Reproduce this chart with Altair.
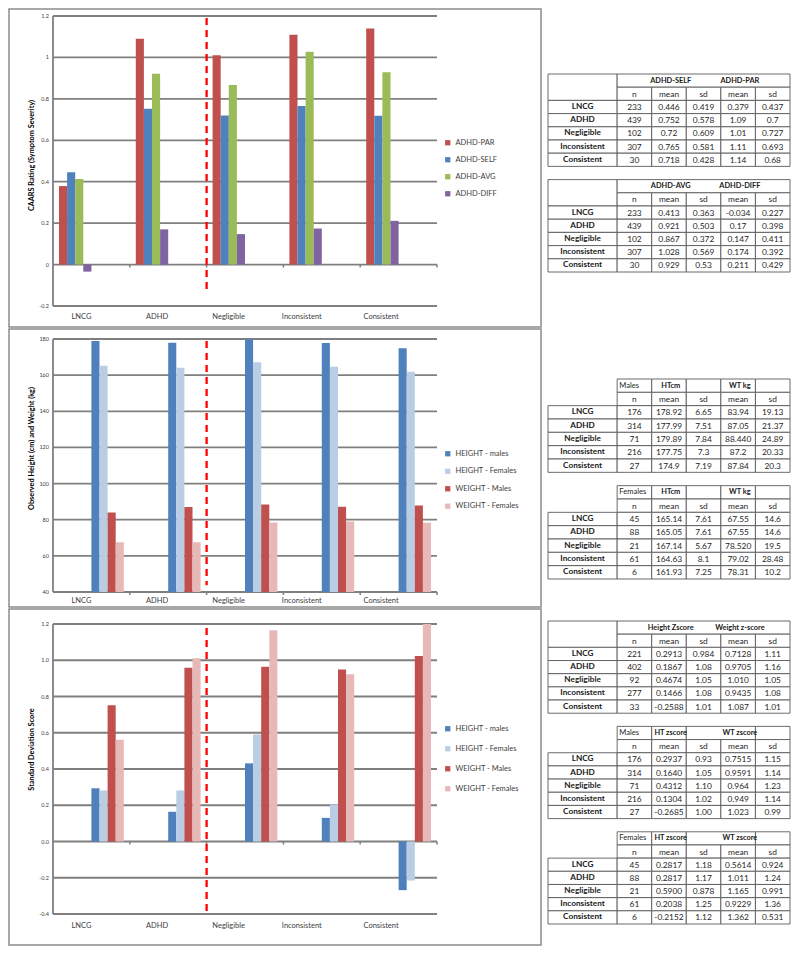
import altair as alt
import pandas as pd

# ---------------- data ----------------
categories = ["LNCG", "ADHD", "Negligible", "Inconsistent", "Consistent"]

# chart 1 : CAARS ratings
caars_series = ["ADHD-PAR", "ADHD-SELF", "ADHD-AVG", "ADHD-DIFF"]
adhd_par = [0.379, 1.09, 1.01, 1.11, 1.14]
adhd_self = [0.446, 0.752, 0.72, 0.765, 0.718]
adhd_avg = [0.413, 0.921, 0.867, 1.028, 0.929]
adhd_diff = [-0.034, 0.17, 0.147, 0.174, 0.211]
caars_ticks = [-0.2, 0, 0.2, 0.4, 0.6, 0.8, 1, 1.2]
caars_tick_labels = ["-0.2", "0", "0.2", "0.4", "0.6", "0.8", "1", "1.2"]

# chart 2 : observed height / weight
hw_series = ["HEIGHT - males", "HEIGHT - Females", "WEIGHT - Males", "WEIGHT - Females"]
ht_males = [178.92, 177.99, 179.89, 177.75, 174.9]
ht_females = [165.14, 164.05, 167.14, 164.63, 161.93]
wt_males = [83.94, 87.05, 88.44, 87.2, 87.84]
wt_females = [67.55, 67.55, 78.52, 79.02, 78.31]
hw_ticks = [40, 60, 80, 100, 120, 140, 160, 180]
hw_tick_labels = ["40", "60", "80", "100", "120", "140", "160", "180"]

# chart 3 : z-scores
z_ht_males = [0.2937, 0.1640, 0.4312, 0.1304, -0.2685]
z_ht_females = [0.2817, 0.2817, 0.5900, 0.2038, -0.2152]
z_wt_males = [0.7515, 0.9591, 0.964, 0.949, 1.023]
z_wt_females = [0.5614, 1.011, 1.165, 0.9229, 1.362]
z_ticks = [-0.4, -0.2, 0.0, 0.2, 0.4, 0.6, 0.8, 1.0, 1.2]
z_tick_labels = ["-0.4", "-0.2", "0.0", "0.2", "0.4", "0.6", "0.8", "1.0", "1.2"]

# tables
sub_header = ["n", "mean", "sd", "mean", "sd"]
self_par_table = [
    ["233", "0.446", "0.419", "0.379", "0.437"],
    ["439", "0.752", "0.578", "1.09", "0.7"],
    ["102", "0.72", "0.609", "1.01", "0.727"],
    ["307", "0.765", "0.581", "1.11", "0.693"],
    ["30", "0.718", "0.428", "1.14", "0.68"],
]
avg_diff_table = [
    ["233", "0.413", "0.363", "-0.034", "0.227"],
    ["439", "0.921", "0.503", "0.17", "0.398"],
    ["102", "0.867", "0.372", "0.147", "0.411"],
    ["307", "1.028", "0.569", "0.174", "0.392"],
    ["30", "0.929", "0.53", "0.211", "0.429"],
]
males_table = [
    ["176", "178.92", "6.65", "83.94", "19.13"],
    ["314", "177.99", "7.51", "87.05", "21.37"],
    ["71", "179.89", "7.84", "88.440", "24.89"],
    ["216", "177.75", "7.3", "87.2", "20.33"],
    ["27", "174.9", "7.19", "87.84", "20.3"],
]
females_table = [
    ["45", "165.14", "7.61", "67.55", "14.6"],
    ["88", "165.05", "7.61", "67.55", "14.6"],
    ["21", "167.14", "5.67", "78.520", "19.5"],
    ["61", "164.63", "8.1", "79.02", "28.48"],
    ["6", "161.93", "7.25", "78.31", "10.2"],
]
z_all_table = [
    ["221", "0.2913", "0.984", "0.7128", "1.11"],
    ["402", "0.1867", "1.08", "0.9705", "1.16"],
    ["92", "0.4674", "1.05", "1.010", "1.05"],
    ["277", "0.1466", "1.08", "0.9435", "1.08"],
    ["33", "-0.2588", "1.01", "1.087", "1.01"],
]
z_males_table = [
    ["176", "0.2937", "0.93", "0.7515", "1.15"],
    ["314", "0.1640", "1.05", "0.9591", "1.14"],
    ["71", "0.4312", "1.10", "0.964", "1.23"],
    ["216", "0.1304", "1.02", "0.949", "1.14"],
    ["27", "-0.2685", "1.00", "1.023", "0.99"],
]
z_females_table = [
    ["45", "0.2817", "1.18", "0.5614", "0.924"],
    ["88", "0.2817", "1.17", "1.011", "1.24"],
    ["21", "0.5900", "0.878", "1.165", "0.991"],
    ["61", "0.2038", "1.25", "0.9229", "1.36"],
    ["6", "-0.2152", "1.12", "1.362", "0.531"],
]

GRID = "#7f7f7f"
FONT = "Lato"


def panel(names, values, colors, y_domain, y_ticks, y_labels, y_title, title_y,
          legend_y, legend_pad, height, frame_top, frame_bottom,
          dash_top, dash_bottom, base_val, tick_len, label_pad):
    recs = []
    for name, vals in zip(names, values):
        for c, v in zip(categories, vals):
            recs.append({"cat": c, "series": name, "value": v})
    df = pd.DataFrame(recs)
    tick_df = pd.DataFrame({"v": y_ticks, "lab": y_labels})

    frame = alt.Chart(pd.DataFrame({"k": [0]})).mark_rect(
        fillOpacity=0, stroke="#8c8c8c", strokeWidth=1.5
    ).encode(
        x=alt.value(-44), x2=alt.value(488),
        y=alt.value(-frame_top), y2=alt.value(height + frame_bottom),
    )

    grid = alt.Chart(tick_df).mark_rule(color=GRID, strokeWidth=1.8).encode(
        y=alt.Y("v:Q"))

    ylabels = alt.Chart(tick_df).mark_text(
        align="right", baseline="middle", fontSize=5.5, color="#404040", font=FONT
    ).encode(x=alt.value(-4), y=alt.Y("v:Q"), text="lab:N")

    left_axis = alt.Chart(pd.DataFrame({"cat": [categories[0]]})).mark_rule(
        color=GRID, strokeWidth=1.8
    ).encode(
        x=alt.X("cat:N", bandPosition=0),
        y=alt.datum(y_domain[0]), y2=alt.datum(y_domain[1]),
    )

    bars = alt.Chart(df).mark_bar(clip=True).encode(
        x=alt.X("cat:N", sort=categories,
                scale=alt.Scale(domain=categories, paddingInner=0, paddingOuter=0),
                axis=alt.Axis(title=None, labelAngle=0, ticks=False, domain=False,
                              grid=False, labelPadding=label_pad, labelFontSize=7.5,
                              labelColor="#404040", labelFont=FONT)),
        xOffset=alt.XOffset("series:N",
                            scale=alt.Scale(domain=names, paddingInner=0, paddingOuter=0.74)),
        y=alt.Y("value:Q",
                scale=alt.Scale(domain=y_domain, nice=False, zero=False),
                axis=alt.Axis(title=y_title, labels=False, grid=False, domain=False,
                              ticks=False,
                              titleFont=FONT, titleFontSize=7.3, titleFontWeight="bold",
                              titleColor="#000000", titleAngle=270, titleAlign="center",
                              titleBaseline="middle", titleX=-22, titleY=title_y)),
        color=alt.Color("series:N",
                        scale=alt.Scale(domain=names, range=colors),
                        legend=alt.Legend(title=None, orient="none", legendX=391,
                                          legendY=legend_y, direction="vertical",
                                          symbolType="square", symbolSize=28,
                                          symbolStrokeWidth=0, labelFontSize=7.5,
                                          labelColor="#404040", labelFont=FONT,
                                          rowPadding=legend_pad, padding=0,
                                          labelOffset=4)),
    )

    ticks = alt.Chart(pd.DataFrame({"cat": categories})).mark_rule(
        color=GRID, strokeWidth=1.5
    ).encode(
        x=alt.X("cat:N", bandPosition=1),
        y=alt.datum(base_val), y2=alt.datum(base_val - tick_len),
    )

    dash = alt.Chart(pd.DataFrame({"cat": ["Negligible"]})).mark_rule(
        color="#ff0000", strokeWidth=2.3, strokeDash=[7, 5]
    ).encode(
        x=alt.X("cat:N", bandPosition=0),
        y=alt.datum(dash_top), y2=alt.datum(dash_bottom),
    )

    return alt.layer(frame, grid, left_axis, bars, ticks, dash, ylabels).properties(
        width=384, height=height)


def table_chart(specs, n_rows, rng, height):
    rects, bold_t, head_t, norm_t, left_t = [], [], [], [], []
    for spec in specs:
        r0 = spec["start"]
        kind = spec["kind"]
        # header row 0
        if kind == "A":
            rects.append({"x0": 0, "x1": 2, "y0": r0, "y1": r0 + 2})
            rects.append({"x0": 2, "x1": 7, "y0": r0, "y1": r0 + 1})
        elif kind == "B":
            for c in range(2, 7):
                rects.append({"x0": c, "x1": c + 1, "y0": r0, "y1": r0 + 1})
        else:
            for a, b in [(2, 3), (3, 4), (4, 6), (6, 7)]:
                rects.append({"x0": a, "x1": b, "y0": r0, "y1": r0 + 1})
        if spec.get("group"):
            left_t.append({"x": 2.06, "y": r0 + 0.5, "t": spec["group"]})
        for text, c in spec["head"]:
            head_t.append({"x": c + 0.55, "y": r0 + 0.5, "t": text})
        # header row 1
        for i, h in enumerate(sub_header):
            c = 2 + i
            rects.append({"x0": c, "x1": c + 1, "y0": r0 + 1, "y1": r0 + 2})
            norm_t.append({"x": c + 0.5, "y": r0 + 1.5, "t": h})
        # data rows
        for j, (lab, row) in enumerate(zip(categories, spec["rows"])):
            rr = r0 + 2 + j
            rects.append({"x0": 0, "x1": 2, "y0": rr, "y1": rr + 1})
            bold_t.append({"x": 1.0, "y": rr + 0.5, "t": lab})
            for i, v in enumerate(row):
                c = 2 + i
                rects.append({"x0": c, "x1": c + 1, "y0": rr, "y1": rr + 1})
                norm_t.append({"x": c + 0.5, "y": rr + 0.5, "t": v})

    xs = alt.Scale(domain=[0, 7], nice=False, zero=False)
    ys = alt.Scale(domain=[0, n_rows], range=rng, nice=False, zero=False)

    def txt(data, **kw):
        return alt.Chart(pd.DataFrame(data)).mark_text(
            baseline="middle", font=FONT, **kw
        ).encode(x=alt.X("x:Q", scale=xs, axis=None),
                 y=alt.Y("y:Q", scale=ys, axis=None), text="t:N")

    layers = [
        alt.Chart(pd.DataFrame(rects)).mark_rect(
            fill="white", stroke="#5a5a5a", strokeWidth=0.9
        ).encode(
            x=alt.X("x0:Q", scale=xs, axis=None), x2="x1:Q",
            y=alt.Y("y0:Q", scale=ys, axis=None), y2="y1:Q",
        ),
        txt(bold_t, fontSize=8.2, fontWeight="bold", align="center", color="#1a1a1a"),
        txt(head_t, fontSize=7.4, fontWeight="bold", align="center", color="#1a1a1a"),
        txt(norm_t, fontSize=8.4, align="center", color="#262626"),
    ]
    if left_t:
        layers.append(txt(left_t, fontSize=7.6, align="left", color="#262626"))
    return alt.layer(*layers).properties(width=242, height=height)


p1 = panel(caars_series, [adhd_par, adhd_self, adhd_avg, adhd_diff],
           ["#C0504D", "#4F81BD", "#9BBB59", "#8064A2"],
           [-0.2, 1.2], caars_ticks, caars_tick_labels,
           "CAARS Rating (Symptom Severity)", 139, 123, 8, 290, 7, 21,
           1.19, -0.138, 0, 0.0145, 10)
p2 = panel(hw_series, [ht_males, ht_females, wt_males, wt_females],
           ["#4F81BD", "#B9CDE5", "#C0504D", "#E6B9B8"],
           [40, 180], hw_ticks, hw_tick_labels,
           "Observed Height (cm) and Weight (kg)", 109, 111, 8.5, 253, 10, 15,
           178.9, 43.8, 40, 1.66, 8)
p3 = panel(hw_series, [z_ht_males, z_ht_females, z_wt_males, z_wt_females],
           ["#4F81BD", "#B9CDE5", "#C0504D", "#E6B9B8"],
           [-0.4, 1.2], z_ticks, z_tick_labels,
           "Standard Deviation Score", 125, 101, 11, 290, 15, 31,
           1.178, -0.4, 0, 0.0166, 11)

t1 = table_chart([
    {"start": 0, "kind": "A", "head": [("ADHD-SELF", 3), ("ADHD-PAR", 5)], "rows": self_par_table},
    {"start": 8, "kind": "A", "head": [("ADHD-AVG", 3), ("ADHD-DIFF", 5)], "rows": avg_diff_table},
], 15, [58, 256], 290)
t2 = table_chart([
    {"start": 0, "kind": "B", "group": "Males", "head": [("HTcm", 3), ("WT kg", 5)], "rows": males_table},
    {"start": 8, "kind": "B", "group": "Females", "head": [("HTcm", 3), ("WT kg", 5)], "rows": females_table},
], 15, [40, 240], 253)
t3 = table_chart([
    {"start": 0, "kind": "A", "head": [("Height Zscore", 3), ("Weight z-score", 5)], "rows": z_all_table},
    {"start": 8, "kind": "C", "group": "Males", "head": [("HT zscore", 3), ("WT zscore", 5)], "rows": z_males_table},
    {"start": 16, "kind": "C", "group": "Females", "head": [("HT zscore", 3), ("WT zscore", 5)], "rows": z_females_table},
], 23, [-3, 300], 290)

chart = alt.vconcat(
    alt.hconcat(p1, t1, spacing=5),
    alt.hconcat(p2, t2, spacing=5),
    alt.hconcat(p3, t3, spacing=5),
    spacing=0,
).resolve_scale(color="independent").properties(padding=0).configure(
    font=FONT).configure_view(stroke=None)

chart.save("out.html", embed_options={"renderer": "svg", "actions": False})
